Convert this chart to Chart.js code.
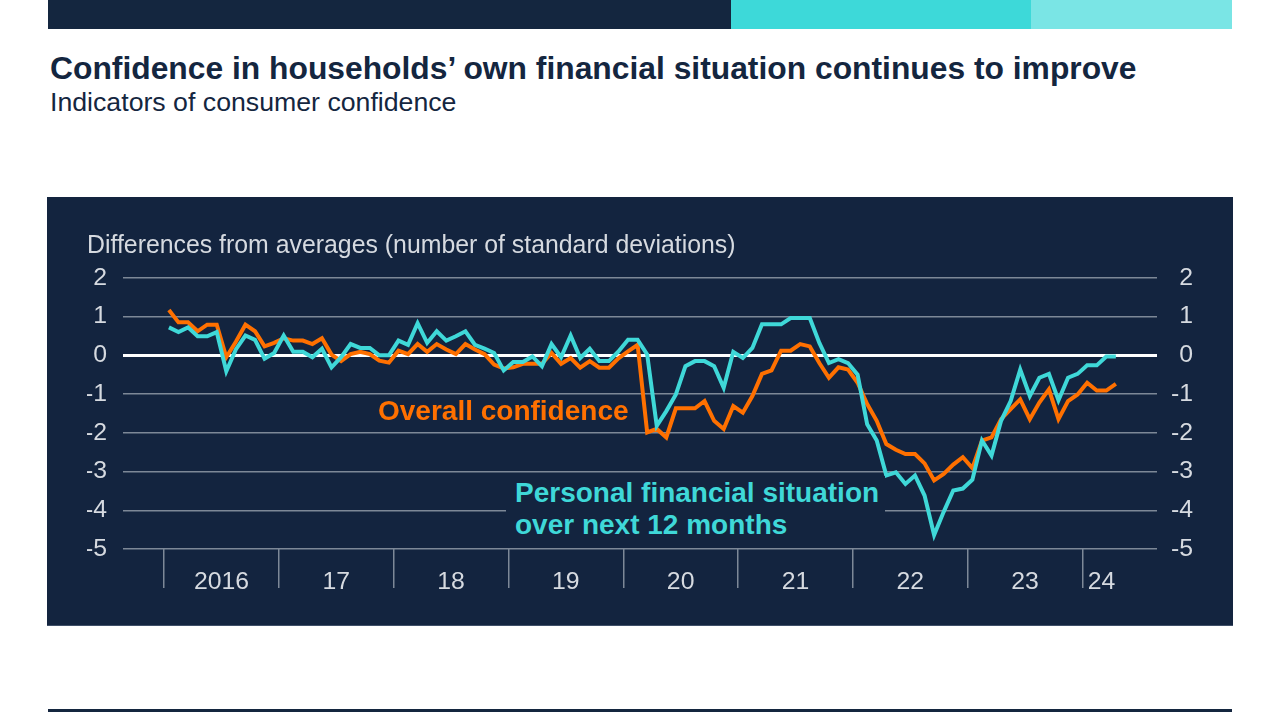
<!DOCTYPE html>
<html>
<head>
<meta charset="utf-8">
<script src="https://cdn.jsdelivr.net/npm/chart.js@4/dist/chart.umd.min.js"></script>
<style>
  html, body { margin: 0; padding: 0; background: #fff; width: 1280px; height: 720px; overflow: hidden;
    font-family: "Liberation Sans", Arial, sans-serif; }
  .bar { position: absolute; top: 0; height: 29px; }
  .head { position: absolute; left: 50px; color: #14263f; line-height: 1; white-space: nowrap; }
  #panel { position: absolute; left: 47px; top: 197px; width: 1186px; height: 429px; background: #13243f;
    box-shadow: inset 0 -1px 0 #3f4f68; }
  #chart { position: absolute; left: 0; top: 0; }
  .note { position: absolute; font-weight: bold; font-size: 28px; line-height: 1; white-space: nowrap; }
  #pers { background: #13243f; line-height: 31.5px; padding: 1px 0 4px 9px; width: 370px; }
</style>
</head>
<body>
<div class="bar" style="left:48px;width:683px;background:#14263f"></div>
<div class="bar" style="left:731px;width:300px;background:#3dd9d9"></div>
<div class="bar" style="left:1031px;width:201px;background:#7ae5e5"></div>
<div class="head" style="top:53px;font-size:31.8px;font-weight:bold">Confidence in households’ own financial situation continues to improve</div>
<div class="head" style="top:89px;font-size:26.7px">Indicators of consumer confidence</div>
<div id="panel">
  <canvas id="chart" width="1186" height="429"></canvas>
  <div class="note" style="left:331px;top:200px;color:#ff7000">Overall confidence</div>
  <div class="note" id="pers" style="left:459px;top:279px;color:#3fd8d8">Personal financial situation<br>over next 12 months</div>
</div>
<div style="position:absolute;left:48px;top:709px;width:1184px;height:3px;background:#14263f"></div>

<script>
// monthly, Jan 2016 - Apr 2024
const overall = [
  1.17, 0.85, 0.85, 0.62, 0.79, 0.79, -0.05, 0.35, 0.79, 0.62, 0.23, 0.32,
  0.44, 0.38, 0.38, 0.29, 0.44, 0.02, -0.15, 0.03, 0.09, 0.03, -0.14, -0.19,
  0.12, 0.03, 0.29, 0.09, 0.29, 0.15, 0.03, 0.29, 0.15, 0.03, -0.24, -0.34,
  -0.31, -0.22, -0.22, -0.22, 0.06, -0.22, -0.07, -0.32, -0.15, -0.32, -0.32, -0.08,
  0.1, 0.27, -1.99, -1.9, -2.12, -1.37, -1.37, -1.37, -1.18, -1.69, -1.9, -1.31,
  -1.48, -1.05, -0.48, -0.39, 0.12, 0.12, 0.29, 0.23, -0.2, -0.58, -0.31, -0.37,
  -0.71, -1.26, -1.69, -2.29, -2.44, -2.55, -2.55, -2.79, -3.23, -3.06, -2.82, -2.63,
  -2.91, -2.2, -2.12, -1.65, -1.39, -1.14, -1.65, -1.22, -0.88, -1.65, -1.18, -1.01,
  -0.71, -0.91, -0.91, -0.74
];
const personal = [
  0.72, 0.6, 0.72, 0.49, 0.49, 0.6, -0.41, 0.15, 0.51, 0.4, -0.09, 0.06,
  0.51, 0.09, 0.09, -0.05, 0.17, -0.31, -0.05, 0.29, 0.19, 0.19, 0, 0,
  0.38, 0.27, 0.83, 0.32, 0.62, 0.38, 0.49, 0.62, 0.27, 0.17, 0.06, -0.39,
  -0.17, -0.17, -0.03, -0.28, 0.29, -0.05, 0.51, -0.07, 0.17, -0.15, -0.15, 0.1,
  0.4, 0.4, 0.02, -1.82, -1.44, -1.01, -0.28, -0.15, -0.15, -0.28, -0.84, 0.09,
  -0.07, 0.19, 0.8, 0.8, 0.8, 0.96, 0.96, 0.96, 0.32, -0.2, -0.1, -0.2,
  -0.5, -1.78, -2.2, -3.1, -3.02, -3.32, -3.1, -3.62, -4.64, -4.04, -3.49, -3.44,
  -3.21, -2.2, -2.59, -1.69, -1.18, -0.37, -1.05, -0.58, -0.48, -1.16, -0.58, -0.48,
  -0.26, -0.26, -0.03, -0.03
];
const yearLabels = ['2016', '17', '18', '19', '20', '21', '22', '23', '24'];
const yearStarts = [0, 12, 24, 36, 48, 60, 72, 84, 96];   // month index where each year begins
const labelPos = [6, 18, 30, 42, 54, 66, 78, 90, 98];     // where the year label sits

const FONT = '"Liberation Sans", Arial, sans-serif';
const TXT = '#d6dae0';
const GRID = '#7d8897';

// each point sits mid-month
const pts = arr => arr.map((v, i) => ({x: i + 0.5, y: v}));

new Chart(document.getElementById('chart'), {
    type: 'line',
    data: {
        datasets: [{
            label: 'Personal financial situation over next 12 months',
            data: pts(personal),
            borderColor: '#3fd8d8',
            borderWidth: 4,
            pointRadius: 0,
            tension: 0,
        }, {
            label: 'Overall confidence',
            data: pts(overall),
            borderColor: '#ff7000',
            borderWidth: 4,
            pointRadius: 0,
            tension: 0,
        }]
    },
    options: {
        responsive: false,
        animation: false,
        layout: {padding: {left: 40, right: 40, top: 0, bottom: 0}},
        plugins: {
            legend: {display: false},
            tooltip: {enabled: false},
            title: {
                display: true,
                text: 'Differences from averages (number of standard deviations)',
                align: 'start',
                color: TXT,
                font: {size: 24.85, family: FONT, weight: 'normal'},
                padding: {top: 34, bottom: 17},
            },
        },
        scales: {
            x: {
                type: 'linear',
                min: -4.3,
                max: 103.8,
                afterBuildTicks: s => {
                    s.ticks = yearStarts.concat(labelPos).sort((a, b) => a - b).map(v => ({value: v}));
                },
                afterFit: s => { s.height = 77; },
                border: {display: false},
                grid: {
                    drawOnChartArea: false,
                    tickLength: 39,
                    lineWidth: 1.5,
                    color: c => (c.tick && yearStarts.includes(c.tick.value)) ? GRID : 'rgba(0,0,0,0)',
                },
                ticks: {
                    autoSkip: false,
                    maxRotation: 0,
                    padding: -21,
                    color: TXT,
                    font: {size: 24.8, family: FONT},
                    callback: v => {
                        const k = labelPos.indexOf(v);
                        return k >= 0 ? yearLabels[k] : '';
                    },
                },
            },
            y: {
                position: 'left',
                min: -5,
                max: 2,
                afterFit: s => { s.width = 36; },
                border: {display: false},
                grid: {
                    drawTicks: false,
                    color: c => c.tick.value === 0 ? '#ffffff' : GRID,
                    lineWidth: c => c.tick.value === 0 ? 3 : 1.5,
                },
                ticks: {stepSize: 1, padding: 16, color: TXT, font: {size: 24.8, family: FONT}},
            },
            y2: {
                position: 'right',
                min: -5,
                max: 2,
                afterFit: s => { s.width = 36; },
                border: {display: false},
                grid: {display: false, drawTicks: false},
                ticks: {stepSize: 1, padding: 14.5, crossAlign: 'far', color: TXT, font: {size: 24.8, family: FONT}},
            },
        },
    }
});
</script>
</body>
</html>
